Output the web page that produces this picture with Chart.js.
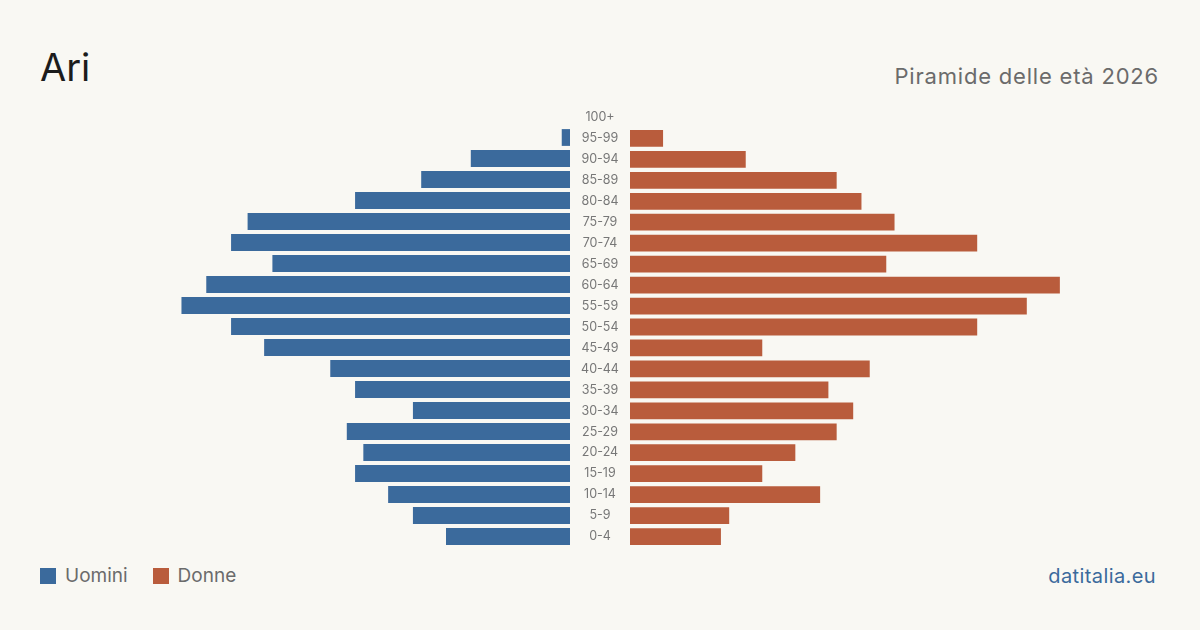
<!DOCTYPE html>
<html><head><meta charset="utf-8">
<script src="https://cdn.jsdelivr.net/npm/chart.js@4"></script>
<style>
html,body{margin:0;padding:0;background:#f9f8f3;}
body{width:1200px;height:630px;position:relative;overflow:hidden;font-family:Inter,"Noto Sans",sans-serif;}
#title{position:absolute;left:40px;top:42px;font-size:38px;color:#1c1c1c;line-height:50px;}
#sub{position:absolute;right:41px;top:61px;font-size:22px;color:#6b6b6b;line-height:30px;letter-spacing:0.8px;}
#leftWrap{position:absolute;left:74px;top:106px;width:496px;height:441px;}
#rightWrap{position:absolute;left:570px;top:107px;width:556px;height:441px;}
#legend{position:absolute;left:40px;top:564px;font-size:19px;color:#6b6b6b;line-height:24px;display:flex;align-items:center;}
.sw{display:inline-block;width:16px;height:16px;margin-right:9px;}
.item{display:flex;align-items:center;margin-right:25px;}
#brand{position:absolute;right:44px;top:563px;font-size:20px;color:#3b6a9c;line-height:26px;letter-spacing:0.4px;}
</style></head>
<body>
<div id="title">Ari</div>
<div id="sub">Piramide delle età 2026</div>
<div id="leftWrap"><canvas id="left"></canvas></div>
<div id="rightWrap"><canvas id="right"></canvas></div>
<div id="legend"><span class="item"><span class="sw" style="background:#3b6a9c"></span>Uomini</span><span class="item"><span class="sw" style="background:#b95c3c"></span>Donne</span></div>
<div id="brand">datitalia.eu</div>
<script>
const ageGroups = ["100+","95-99","90-94","85-89","80-84","75-79","70-74","65-69","60-64","55-59","50-54","45-49","40-44","35-39","30-34","25-29","20-24","15-19","10-14","5-9","0-4"];
const uomini = [0,1,12,18,26,39,41,36,44,47,41,37,29,26,19,27,25,26,22,19,15];
const donne  = [0,4,14,25,28,32,42,31,52,48,42,16,29,24,27,25,20,16,23,12,11];
const seriesNames = ["Uomini","Donne"];
const colors = {uomini:"#3b6a9c", donne:"#b95c3c"};
const xMax = 60;

const labelFont = '12.5px Inter, "Noto Sans", sans-serif';
const mctx = document.createElement('canvas').getContext('2d');
mctx.font = labelFont;
let longest = 0;
ageGroups.forEach(l => { longest = Math.max(longest, mctx.measureText(l).width); });
const centerPad = 30 - longest / 2;

Chart.defaults.animation = false;
Chart.defaults.responsive = true;
Chart.defaults.maintainAspectRatio = false;

new Chart(document.getElementById('left'), {
  type: 'bar',
  data: { labels: ageGroups, datasets: [{ label: seriesNames[0], data: uomini, backgroundColor: colors.uomini, barPercentage: 0.8, categoryPercentage: 1 }] },
  options: {
    indexAxis: 'y',
    layout: { padding: 0 },
    plugins: { legend: { display: false }, tooltip: { enabled: false } },
    scales: {
      x: { display: false, min: 0, max: xMax, reverse: true },
      y: { display: false }
    }
  }
});

new Chart(document.getElementById('right'), {
  type: 'bar',
  data: { labels: ageGroups, datasets: [{ label: seriesNames[1], data: donne, backgroundColor: colors.donne, barPercentage: 0.8, categoryPercentage: 1 }] },
  options: {
    indexAxis: 'y',
    layout: { padding: { top: 0, bottom: 1 } },
    plugins: { legend: { display: false }, tooltip: { enabled: false } },
    scales: {
      x: { display: false, min: 0, max: xMax },
      y: {
        position: 'left',
        grid: { display: false, drawTicks: false },
        border: { display: false },
        ticks: { crossAlign: 'center', padding: centerPad, color: '#777', font: { family: 'Inter, "Noto Sans", sans-serif', size: 12.5 } },
        afterFit(scale) { scale.width = 60; scale.paddingTop = 0; scale.paddingBottom = 0; }
      }
    }
  }
});
</script>
</body></html>
